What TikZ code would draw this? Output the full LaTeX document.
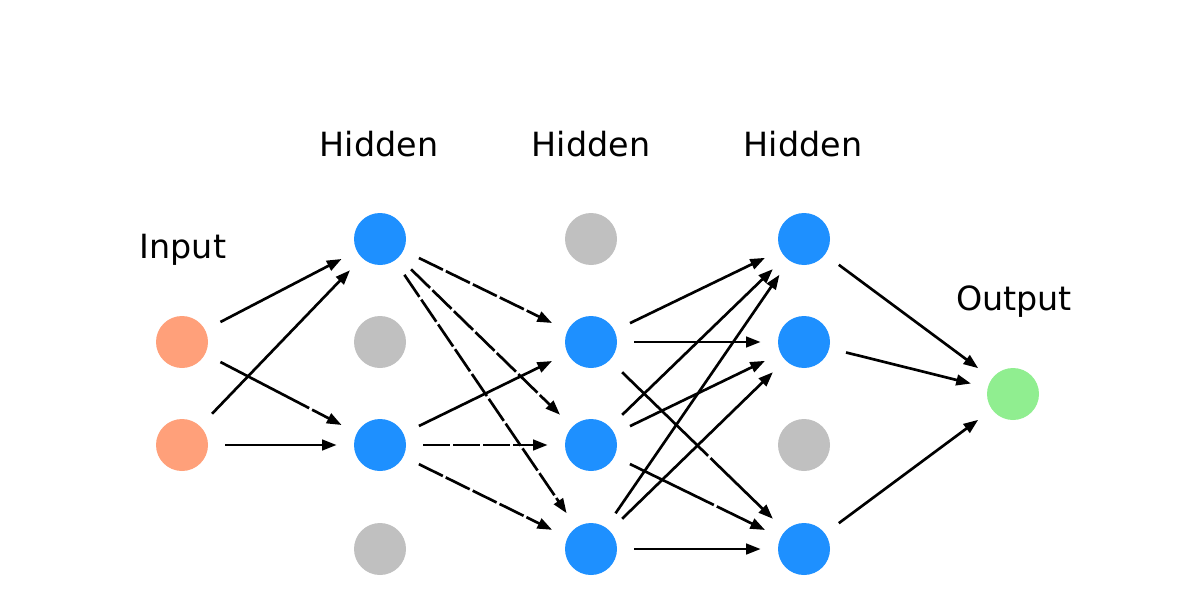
\documentclass[tikz,border=0pt]{standalone}
\usepackage{fontspec}
\setmainfont{DejaVu Sans}
\usepackage{xcolor}
\usetikzlibrary{arrows.meta}

\definecolor{inred}{HTML}{FFA07A}
\definecolor{hidblue}{HTML}{1E90FF}
\definecolor{offgray}{HTML}{C0C0C0}
\definecolor{outgreen}{HTML}{90EE90}

\begin{document}
\begin{tikzpicture}[
  x=0.75pt, y=-0.75pt,
  neuron/.style={circle, minimum size=39pt, inner sep=0pt, outer sep=13pt},
  arrow/.style={-{Triangle[length=11pt,width=8pt]}, line width=2pt, black},
  broken/.style={dash pattern=on 20pt off 2.5pt},
  layer/.style={font=\fontsize{25}{30}\selectfont}
]
  \useasboundingbox (0,0) rectangle (1196,610);

  % layer titles
  \node[layer] (tin)  at (183,250)  {Input};
  \node[layer] (th1)  at (379,144)  {Hidden};
  \node[layer] (th2)  at (591,144)  {Hidden};
  \node[layer] (th3)  at (803,144)  {Hidden};
  \node[layer] (tout) at (1014,302) {Output};

  % input layer
  \node[neuron, fill=inred] (in1) at (182,342) {};
  \node[neuron, fill=inred] (in2) at (182,445) {};

  % hidden layer 1
  \node[neuron, fill=hidblue] (ha1) at (380,239) {};
  \node[neuron, fill=offgray] (ha2) at (380,342) {};
  \node[neuron, fill=hidblue] (ha3) at (380,445) {};
  \node[neuron, fill=offgray] (ha4) at (380,549) {};

  % hidden layer 2
  \node[neuron, fill=offgray] (hb1) at (591,239) {};
  \node[neuron, fill=hidblue] (hb2) at (591,342) {};
  \node[neuron, fill=hidblue] (hb3) at (591,445) {};
  \node[neuron, fill=hidblue] (hb4) at (591,549) {};

  % hidden layer 3
  \node[neuron, fill=hidblue] (hc1) at (804,239) {};
  \node[neuron, fill=hidblue] (hc2) at (804,342) {};
  \node[neuron, fill=offgray] (hc3) at (804,445) {};
  \node[neuron, fill=hidblue] (hc4) at (804,549) {};

  % output
  \node[neuron, fill=outgreen] (out) at (1013,394) {};

  % input -> hidden 1
  \draw[arrow] (in1) -- (ha1);
  \draw[arrow, dash pattern=on 75pt off 2.5pt] (in1) -- (ha3);
  \draw[arrow] (in2) -- (ha1);
  \draw[arrow] (in2) -- (ha3);

  % hidden 1 -> hidden 2
  \draw[arrow, broken] (ha1) -- (hb2);
  \draw[arrow, broken] (ha1) -- (hb3);
  \draw[arrow, broken] (ha1) -- (hb4);
  \draw[arrow] (ha3) -- (hb2);
  \draw[arrow, broken] (ha3) -- (hb3);
  \draw[arrow, broken] (ha3) -- (hb4);

  % hidden 2 -> hidden 3
  \draw[arrow] (hb2) -- (hc1);
  \draw[arrow] (hb2) -- (hc2);
  \draw[arrow, dash pattern=on 90pt off 2.5pt] (hb2) -- (hc4);
  \draw[arrow] (hb3) -- (hc1);
  \draw[arrow] (hb3) -- (hc2);
  \draw[arrow, dash pattern=on 70pt off 2.5pt] (hb3) -- (hc4);
  \draw[arrow] (hb4) -- (hc1);
  \draw[arrow] (hb4) -- (hc2);
  \draw[arrow] (hb4) -- (hc4);

  % hidden 3 -> output
  \draw[arrow] (hc1) -- (out);
  \draw[arrow] (hc2) -- (out);
  \draw[arrow] (hc4) -- (out);
\end{tikzpicture}
\end{document}
